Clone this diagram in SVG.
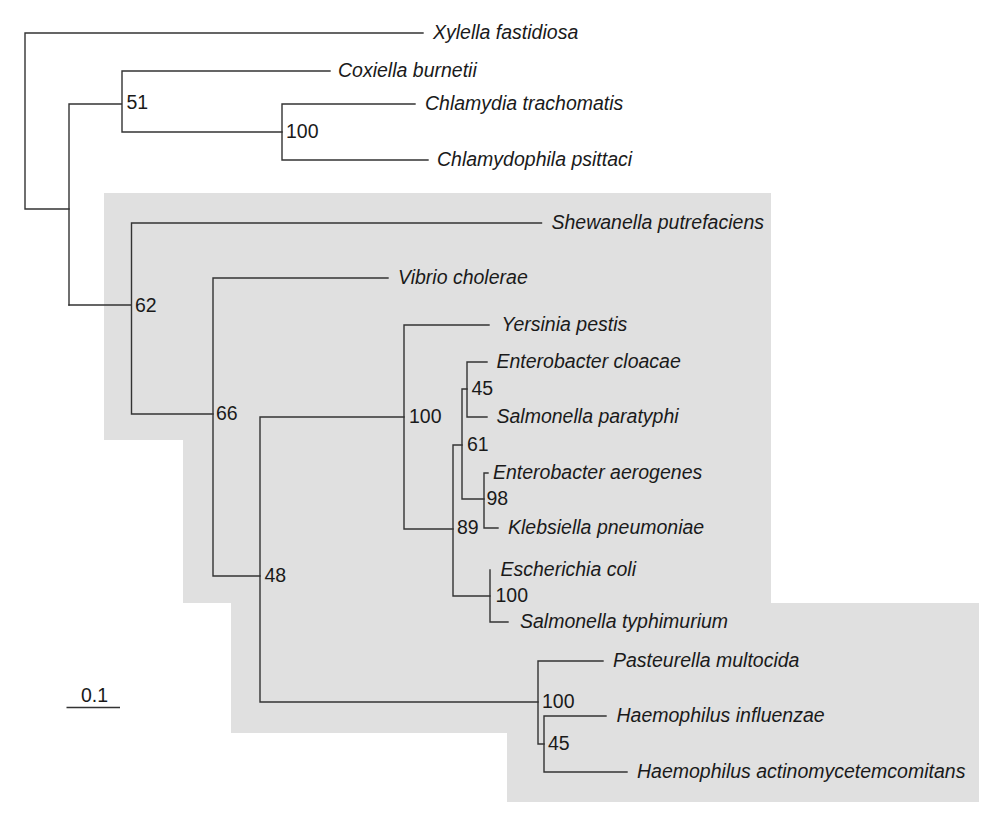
<svg xmlns="http://www.w3.org/2000/svg" width="1000" height="837" viewBox="0 0 1000 837">
<style>
.sp{font-family:"Liberation Sans",Arial,sans-serif;font-size:19.5px;font-style:italic;fill:#1a1a1a}
.bs{font-family:"Liberation Sans",Arial,sans-serif;font-size:19.5px;fill:#1a1a1a}
.br{fill:none;stroke:#333;stroke-width:1.4;stroke-linecap:square}
</style>
<rect width="1000" height="837" fill="#ffffff"/>
<polygon id="clade-shade" points="104,193 771,193 771,603 979,603 979,802 507,802 507,733 231,733 231,603 183,603 183,440 104,440" fill="#e0e0e0"/>
<g id="connectors" class="br">
<path d="M25,33V209M25,33H423M25,209H69"/>
<path d="M69,104V305M69,104H122M122,71V132M122,71H330M122,132H282"/>
<path d="M282,104V160M282,104H415M282,160H428"/>
<path d="M69,305H131.5M131.5,223V414M131.5,223H541.5M131.5,414H213"/>
<path d="M213,278V576M213,278H388M213,576H260"/>
<path d="M260,417V702M260,417H404M260,702H538"/>
<path d="M404,325V529M404,325H489M404,529H453"/>
<path d="M453,445V596M453,445H462M453,596H490"/>
<path d="M462,389V499M462,389H467M462,499H484"/>
<path d="M467,362V417M467,362H487M467,417H487"/>
<path d="M484,473V528M484,473H488M484,528H498"/>
<path d="M490,570V622M490,622H508"/>
<path d="M538,661V744M538,661H603M538,744H544"/>
<path d="M544,716V772M544,716H606M544,772H627"/>
</g>
<g id="leaf-xylella"><text class="sp" x="433" y="39">Xylella fastidiosa</text></g>
<g id="leaf-coxiella"><text class="sp" x="338" y="77">Coxiella burnetii</text></g>
<g id="leaf-chlamydia"><text class="sp" x="425" y="110">Chlamydia trachomatis</text></g>
<g id="leaf-chlamydophila"><text class="sp" x="437" y="166">Chlamydophila psittaci</text></g>
<g id="leaf-shewanella"><text class="sp" x="551.5" y="229">Shewanella putrefaciens</text></g>
<g id="leaf-vibrio"><text class="sp" x="398" y="284">Vibrio cholerae</text></g>
<g id="leaf-yersinia"><text class="sp" x="501.5" y="331">Yersinia pestis</text></g>
<g id="leaf-ecloacae"><text class="sp" x="496.5" y="368">Enterobacter cloacae</text></g>
<g id="leaf-sparatyphi"><text class="sp" x="496.5" y="423">Salmonella paratyphi</text></g>
<g id="leaf-eaerogenes"><text class="sp" x="493" y="479">Enterobacter aerogenes</text></g>
<g id="leaf-klebsiella"><text class="sp" x="508" y="534">Klebsiella pneumoniae</text></g>
<g id="leaf-ecoli"><text class="sp" x="500.5" y="576">Escherichia coli</text></g>
<g id="leaf-styphimurium"><text class="sp" x="520" y="628">Salmonella typhimurium</text></g>
<g id="leaf-pasteurella"><text class="sp" x="613" y="667">Pasteurella multocida</text></g>
<g id="leaf-hinfluenzae"><text class="sp" x="616.5" y="722">Haemophilus influenzae</text></g>
<g id="leaf-hactino"><text class="sp" x="637" y="778">Haemophilus actinomycetemcomitans</text></g>
<g id="node-51"><text class="bs" x="126.5" y="108.5">51</text></g>
<g id="node-100a"><text class="bs" x="286" y="138">100</text></g>
<g id="node-62"><text class="bs" x="135" y="312">62</text></g>
<g id="node-66"><text class="bs" x="216" y="420">66</text></g>
<g id="node-100b"><text class="bs" x="409" y="423">100</text></g>
<g id="node-45a"><text class="bs" x="471.5" y="395">45</text></g>
<g id="node-61"><text class="bs" x="467" y="451">61</text></g>
<g id="node-98"><text class="bs" x="486.5" y="505">98</text></g>
<g id="node-89"><text class="bs" x="457" y="533.5">89</text></g>
<g id="node-100c"><text class="bs" x="495.5" y="602">100</text></g>
<g id="node-48"><text class="bs" x="264.5" y="582">48</text></g>
<g id="node-100d"><text class="bs" x="542" y="707.5">100</text></g>
<g id="node-45b"><text class="bs" x="548" y="750">45</text></g>
<g id="scale-bar">
<line x1="66.5" y1="707.5" x2="120" y2="707.5" stroke="#333" stroke-width="1.4"/>
<text class="bs" x="81" y="702">0.1</text>
</g>
</svg>
